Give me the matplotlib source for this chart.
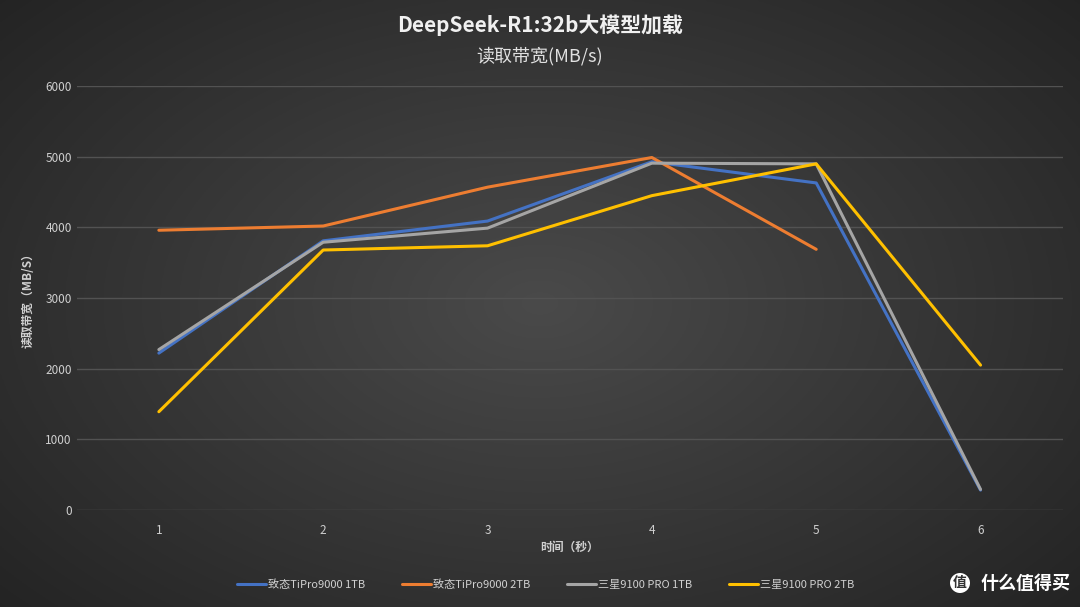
import numpy as np
import matplotlib.pyplot as plt
from matplotlib.patches import Ellipse

plt.rcParams['font.family'] = ['Noto Sans CJK SC', 'DejaVu Sans']

# 数据
x_labels = ['1', '2', '3', '4', '5', '6']
tipro_1tb = [2220, 3810, 4090, 4930, 4630, 280]
tipro_2tb = [3960, 4020, 4570, 4990, 3690]
sam_1tb = [2270, 3790, 3990, 4910, 4900, 290]
sam_2tb = [1390, 3680, 3740, 4450, 4900, 2050]

series = [
    ('致态TiPro9000 1TB', tipro_1tb, '#4472C4'),
    ('致态TiPro9000 2TB', tipro_2tb, '#ED7D31'),
    ('三星9100 PRO 1TB', sam_1tb, '#A5A5A5'),
    ('三星9100 PRO 2TB', sam_2tb, '#FFC000'),
]

fig = plt.figure(figsize=(10.8, 6.07), dpi=100)

# 径向渐变背景
bg = fig.add_axes([0, 0, 1, 1])
yy, xx = np.mgrid[-1:1:300j, -1:1:540j]
r = np.sqrt(xx ** 2 + (yy * 0.9) ** 2)
g = 0.29 - 0.15 * np.clip(r / 1.35, 0, 1)
img = np.dstack([g, g, g])
bg.imshow(img, extent=[0, 1, 0, 1], aspect='auto', zorder=0)
bg.set_axis_off()

ax = fig.add_axes([0.071, 0.16, 0.913, 0.698])
ax.set_facecolor('none')
pos = np.arange(1, 7)
for name, vals, c in series:
    ax.plot(pos[:len(vals)], vals, color=c, lw=2.2, label=name,
            solid_capstyle='round', solid_joinstyle='round')

ax.set_xlim(0.5, 6.5)
ax.set_ylim(0, 6000)
ax.set_yticks(range(0, 6001, 1000))
ax.set_xticks(pos)
ax.set_xticklabels(x_labels)
ax.grid(axis='y', color='#525252', lw=1)
ax.set_axisbelow(True)
for s in ax.spines.values():
    s.set_visible(False)
ax.tick_params(length=0, colors='#cfcfcf', labelsize=8.5)
ax.tick_params(axis='x', pad=10)
ax.set_ylabel('读取带宽（MB/S）', color='#d0d0d0', fontsize=8.5, fontweight='bold', labelpad=8)
ax.set_xlabel('时间（秒）', color='#d0d0d0', fontsize=8.5, fontweight='bold', labelpad=3)

fig.text(0.5, 0.958, 'DeepSeek-R1:32b大模型加载', ha='center', va='center',
         color='#f0f0f0', fontsize=15, fontweight='bold')
fig.text(0.5, 0.907, '读取带宽(MB/s)', ha='center', va='center',
         color='#e0e0e0', fontsize=13)

leg = fig.legend(loc='center', bbox_to_anchor=(0.505, 0.037), ncol=4, frameon=False,
                 fontsize=8, labelcolor='#d0d0d0', handlelength=2.6,
                 columnspacing=3.3, handletextpad=0.2)

# 水印
fig.patches.append(Ellipse((960 / 1080, 1 - 583 / 607), 20 / 1080, 20 / 607,
                           transform=fig.transFigure, facecolor='white', edgecolor='none'))
fig.text(960 / 1080, 1 - 583 / 607, '值', ha='center', va='center', color='#333333',
         fontsize=10, fontweight='bold')
fig.text(981 / 1080, 1 - 583 / 607, '什么值得买', ha='left', va='center', color='white',
         fontsize=13, fontweight='bold')

fig.savefig('out.png', dpi=100)
